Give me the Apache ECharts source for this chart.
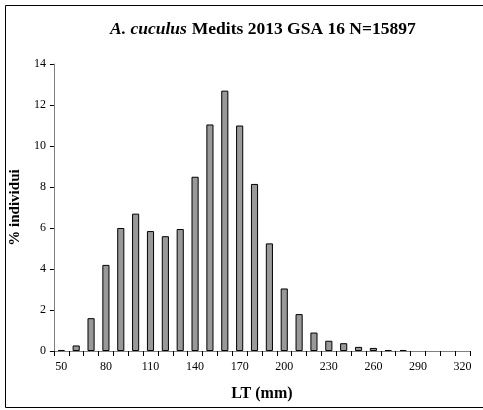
<!DOCTYPE html>
<html><head><meta charset="utf-8">
<script src="https://cdn.jsdelivr.net/npm/echarts@6/dist/echarts.min.js"></script>
<style>html,body{margin:0;padding:0;background:#fff}#c{width:483px;height:410px}</style>
</head><body><div id="c"></div>
<script>
const categories = ['50','60','70','80','90','100','110','120','130','140','150','160','170','180','190','200','210','220','230','240','250','260','270','280','290','300','310','320'];
const values = [0.05,0.27,1.6,4.2,6.0,6.7,5.85,5.6,5.95,8.5,11.05,12.7,11.0,8.15,5.25,3.05,1.8,0.9,0.5,0.38,0.2,0.15,0.05,0.05,0,0,0,0];
const titleMain = 'Medits 2013 GSA 16 N=15897';
const titleSpecies = 'A. cuculus';
const yName = '% individui';
const xName = 'LT (mm)';
const font = 'Liberation Serif';
const chart = echarts.init(document.getElementById('c'));
chart.setOption({
  animation:false,
  backgroundColor:'#fff',
  title:{
    text:'{i|'+titleSpecies+'} {b|'+titleMain+'}',
    left:105, top:15,
    textStyle:{rich:{
      i:{fontFamily:font,fontSize:17.5,fontStyle:'italic',fontWeight:'bold',color:'#000'},
      b:{fontFamily:font,fontSize:17.5,fontWeight:'bold',color:'#000'}
    }}
  },
  graphic:[{type:'rect',shape:{x:5.5,y:5.5,width:482,height:402},style:{fill:null,stroke:'#000',lineWidth:1}}],
  grid:{left:52,right:13,top:64,bottom:59},
  xAxis:{
    type:'category', data:categories, boundaryGap:true,
    name:xName, nameLocation:'middle', nameGap:35,
    nameTextStyle:{fontFamily:font,fontSize:16,fontWeight:'bold',color:'#000'},
    axisLine:{lineStyle:{color:'#808080',width:1}},
    axisTick:{show:true,interval:0,length:5,lineStyle:{color:'#000'}},
    axisLabel:{interval:2,fontFamily:font,fontSize:12,color:'#000',margin:10}
  },
  yAxis:{
    type:'value', min:0, max:14, interval:2,
    name:yName, nameLocation:'middle', nameGap:27,
    nameTextStyle:{fontFamily:font,fontSize:15,fontWeight:'bold',color:'#000'},
    axisLine:{show:true,lineStyle:{color:'#808080',width:1}},
    axisTick:{show:true,length:4,lineStyle:{color:'#000'}},
    splitLine:{show:false},
    axisLabel:{fontFamily:font,fontSize:12,color:'#000',margin:8}
  },
  series:[{type:'bar',data:values.map(v => v === 0 ? '-' : v),barWidth:'48%',
    itemStyle:{color:'#999999',borderColor:'#000',borderWidth:1}}]
});
</script></body></html>
